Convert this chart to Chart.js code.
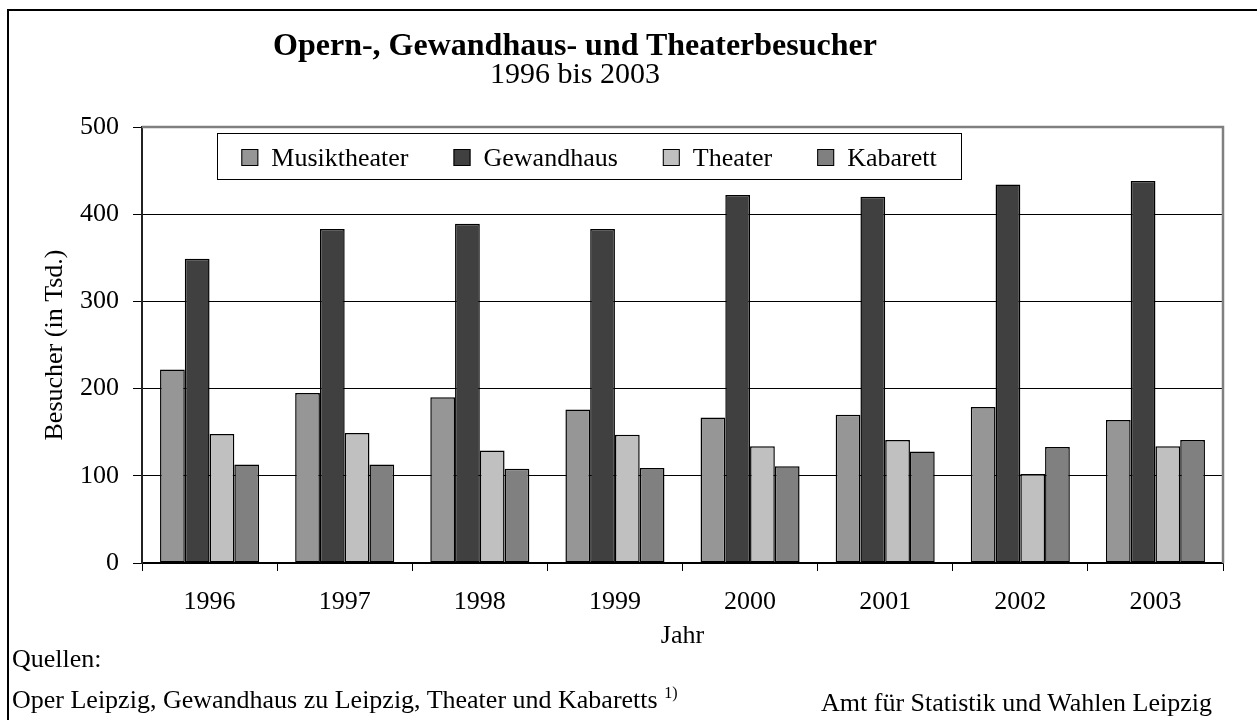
<!DOCTYPE html>
<html lang="de">
<head>
<meta charset="utf-8">
<title>Opern-, Gewandhaus- und Theaterbesucher 1996 bis 2003</title>
<script src="https://cdn.jsdelivr.net/npm/chart.js@4/dist/chart.umd.min.js"></script>
<style>
  html, body {
    margin: 0;
    padding: 0;
    background: #fff;
    overflow: hidden;
  }
  .page {
    position: relative;
    width: 1257px;
    height: 720px;
    font-family: "Liberation Serif", "Times New Roman", serif;
    color: #000;
  }
  .frame {
    position: absolute;
    left: 7px;
    top: 9px;
    width: 1300px;
    height: 800px;
    border: 2px solid #000;
  }
  canvas {
    position: absolute;
    left: 0;
    top: 0;
  }
  .title,
  .subtitle {
    position: absolute;
    left: 0;
    width: 1150px;
    text-align: center;
    white-space: nowrap;
  }
  .title {
    top: 28px;
    font-size: 32px;
    line-height: 32px;
    font-weight: bold;
  }
  .subtitle {
    top: 58px;
    font-size: 30px;
    line-height: 30px;
  }
  .note {
    position: absolute;
    font-size: 26px;
    line-height: 26px;
    white-space: nowrap;
  }
  .note sup {
    font-size: 16px;
    line-height: 0;
  }
</style>
</head>
<body>
<div class="page">
  <div class="frame"></div>
  <canvas id="visitorsChart" width="1257" height="720"></canvas>
  <div class="title">Opern-, Gewandhaus- und Theaterbesucher</div>
  <div class="subtitle">1996 bis 2003</div>
  <div class="note" style="left: 12px; top: 646px;">Quellen:</div>
  <div class="note" style="left: 12px; top: 687px;">Oper Leipzig, Gewandhaus zu Leipzig, Theater und Kabaretts <sup>1)</sup></div>
  <div class="note" style="right: 45px; top: 690px;">Amt für Statistik und Wahlen Leipzig</div>
</div>

<script>
// Besucher in Tausend
const years = ["1996", "1997", "1998", "1999", "2000", "2001", "2002", "2003"];
const musiktheater = [222, 195, 190, 176, 167, 170, 179, 164];
const gewandhaus = [349, 383, 389, 383, 422, 420, 434, 438];
const theater = [148, 149, 129, 147, 134, 141, 102, 134];
const kabarett = [113, 113, 108, 109, 111, 128, 133, 141];

const seriesNames = ["Musiktheater", "Gewandhaus", "Theater", "Kabarett"];
const seriesColors = ["#969696", "#404040", "#c0c0c0", "#808080"];
const seriesValues = [musiktheater, gewandhaus, theater, kabarett];

const yMax = 500;
const yStep = 100;

const ctx = document.getElementById("visitorsChart").getContext("2d");

Chart.defaults.font.family = "'Liberation Serif', 'Times New Roman', serif";
Chart.defaults.font.size = 26;
Chart.defaults.color = "#000";

// grey frame on top and right of the plot area
const plotFrame = {
  id: "plotFrame",
  afterDatasetsDraw(chart) {
    const { ctx, chartArea } = chart;
    ctx.save();
    ctx.strokeStyle = "#808080";
    ctx.lineWidth = 2.5;
    ctx.beginPath();
    ctx.moveTo(chartArea.left, chartArea.top);
    ctx.lineTo(chartArea.right, chartArea.top);
    ctx.lineTo(chartArea.right, chartArea.bottom);
    ctx.stroke();
    ctx.restore();
  },
};

// legend box sitting inside the plot area
const boxLegend = {
  id: "boxLegend",
  afterDraw(chart) {
    const { ctx, chartArea } = chart;
    const left = chartArea.left + 75;
    const top = chartArea.top + 6;
    const width = 744;
    const height = 46;
    const swatch = 17;
    const gap = 13;
    const spacing = 45;

    ctx.save();
    ctx.fillStyle = "#fff";
    ctx.fillRect(left, top, width, height);
    ctx.strokeStyle = "#000";
    ctx.lineWidth = 1;
    ctx.strokeRect(left + 0.5, top + 0.5, width, height);

    ctx.font = "26px 'Liberation Serif', 'Times New Roman', serif";
    ctx.textBaseline = "alphabetic";
    const items = chart.data.datasets.map((ds) => ({
      text: ds.label,
      color: ds.backgroundColor,
      w: ctx.measureText(ds.label).width,
    }));
    const total =
      items.reduce((sum, item) => sum + swatch + gap + item.w, 0) +
      spacing * (items.length - 1);

    let x = left + (width - total) / 2;
    const baseline = top + 33;
    for (let item of items) {
      ctx.fillStyle = item.color;
      ctx.fillRect(x, baseline - swatch, swatch, swatch);
      ctx.strokeStyle = "#000";
      ctx.strokeRect(x + 0.5, baseline - swatch + 0.5, swatch - 1, swatch - 1);
      ctx.fillStyle = "#000";
      ctx.fillText(item.text, x + swatch + gap, baseline);
      x += swatch + gap + item.w + spacing;
    }
    ctx.restore();
  },
};

new Chart(ctx, {
  type: "bar",
  data: {
    labels: years,
    datasets: seriesNames.map((name, i) => ({
      label: name,
      data: seriesValues[i],
      backgroundColor: seriesColors[i],
      borderColor: "#000",
      borderWidth: 1.5,
      borderSkipped: false,
      categoryPercentage: 0.733,
      barPercentage: 1,
    })),
  },
  options: {
    responsive: false,
    animation: false,
    devicePixelRatio: 1,
    layout: {
      padding: { top: 127, right: 34, bottom: 67, left: 0 },
    },
    plugins: {
      legend: { display: false },
      tooltip: { enabled: false },
      title: { display: false },
    },
    scales: {
      x: {
        grid: {
          display: true,
          drawOnChartArea: false,
          drawTicks: true,
          tickLength: 8,
          color: "#000",
          lineWidth: 1,
          offset: true,
        },
        border: { color: "#000", width: 1.5 },
        ticks: { padding: 16, color: "#000" },
        title: {
          display: true,
          text: "Jahr",
          color: "#000",
          padding: { top: 0, bottom: 1 },
        },
        afterFit(scale) {
          scale.height = 90;
        },
      },
      y: {
        min: 0,
        max: yMax,
        ticks: { stepSize: yStep, padding: 14, color: "#000" },
        grid: {
          color: (c) => (c.tick && c.tick.value === yMax ? "rgba(0,0,0,0)" : "#000"),
          tickColor: "#000",
          tickLength: 9,
          lineWidth: 1,
        },
        border: { color: "#222", width: 2 },
        title: {
          display: true,
          text: "Besucher (in Tsd.)",
          color: "#000",
          padding: { top: 40, bottom: 0 },
        },
        afterFit(scale) {
          scale.width = 142;
        },
      },
    },
  },
  plugins: [plotFrame, boxLegend],
});
</script>
</body>
</html>
